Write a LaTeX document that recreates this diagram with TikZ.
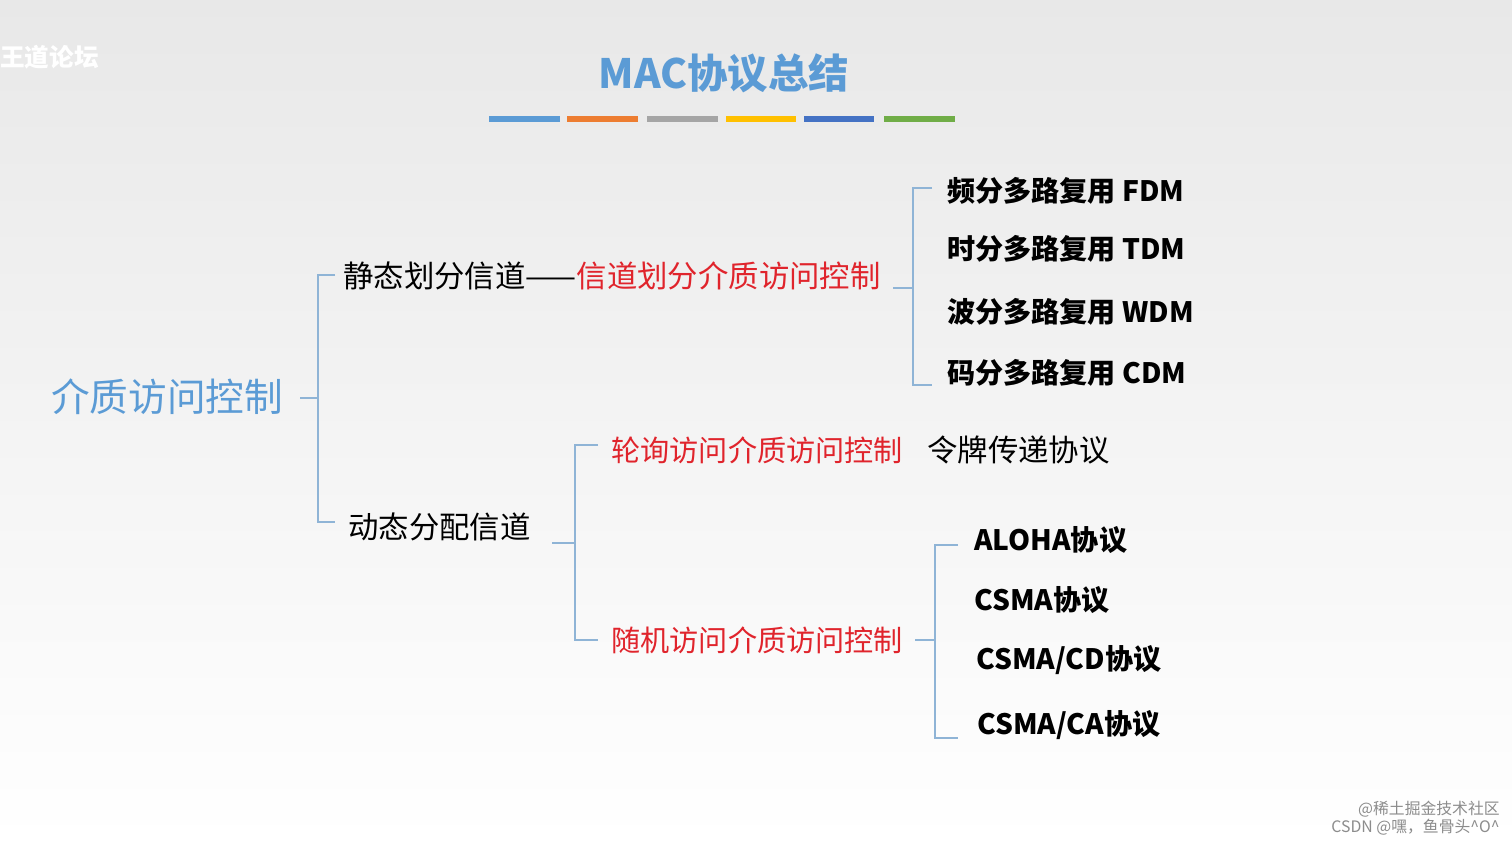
\documentclass[tikz,border=0pt]{standalone}
\usepackage{fontspec}
\setmainfont{Noto Sans CJK SC}
\begin{document}
\begin{tikzpicture}[x=0.02cm,y=-0.02cm,
  br/.style={draw=brc,line width=0.8pt},
  t/.style={anchor=west,inner sep=0pt,font=\fontsize{17.3}{17}\selectfont},
  it/.style={t,font=\fontsize{16}{16}\selectfont\bfseries},
  red/.style={text=redc,font=\fontsize{16.6}{17}\selectfont}]
\definecolor{brc}{HTML}{8FB4D6}
\definecolor{redc}{HTML}{E0242C}
\definecolor{bluec}{HTML}{5B9BD5}
\shade[top color=black!9,bottom color=white] (0,0) rectangle (1512,843);
\useasboundingbox (0,0) rectangle (1512,843);
\node[inner sep=0pt,text=bluec,font=\fontsize{23}{23}\selectfont\bfseries] (title) at (724,73) {MAC协议总结};
\foreach \a/\b/\c in {489/560/5B9BD5,567/638/ED7D31,647/718/A5A5A5,726/796/FFC000,804/874/4472C4,884/955/70AD47}{
  \definecolor{bc}{HTML}{\c}\fill[bc] (\a,116) rectangle (\b,122);}
\node[inner sep=0pt,text=white,font=\fontsize{14}{14}\selectfont\bfseries,anchor=west] (wm) at (0,57) {王道论坛};
\node[inner sep=0pt,text=bluec,font=\fontsize{22}{22}\selectfont] (root) at (167,397) {介质访问控制};
% bracket 1
\draw[br] (335,275) -- (318,275) -- (318,522) -- (335,522);
\draw[br] (318,398) -- (300,398);
\node[t] (s) at (343,276) {静态划分信道——\textcolor{redc}{信道划分介质访问控制}};
\node[t] (d) at (348,527) {动态分配信道};
% bracket 2
\draw[br] (932,188) -- (913,188) -- (913,385) -- (932,385);
\draw[br] (913,288) -- (893,288);
\node[it] (f1) at (947,191) {频分多路复用 FDM};
\node[it] (f2) at (947,249) {时分多路复用 TDM};
\node[it] (f3) at (947,312) {波分多路复用 WDM};
\node[it] (f4) at (947,373) {码分多路复用 CDM};
% bracket 3
\draw[br] (598,445) -- (575,445) -- (575,640) -- (598,640);
\draw[br] (575,543) -- (552,543);
\node[t,red] (p) at (611,450) {轮询访问介质访问控制};
\node[t] (tk) at (927,450) {令牌传递协议};
\node[t,red] (r) at (611,640) {随机访问介质访问控制};
% bracket 4
\draw[br] (958,545) -- (935,545) -- (935,738) -- (958,738);
\draw[br] (935,640) -- (915,640);
\node[it] (a1) at (974,540) {ALOHA协议};
\node[it] (a2) at (974,600) {CSMA协议};
\node[it] (a3) at (976,660) {CSMA/CD协议};
\node[it] (a4) at (977,725) {CSMA/CA协议};
\node[inner sep=0pt,anchor=east,text=black!45,font=\fontsize{9}{9}\selectfont,align=right] (wm2) at (1500,818) {@稀土掘金技术社区\\CSDN @嘿，鱼骨头\^{}O\^{}};
\end{tikzpicture}
\end{document}
